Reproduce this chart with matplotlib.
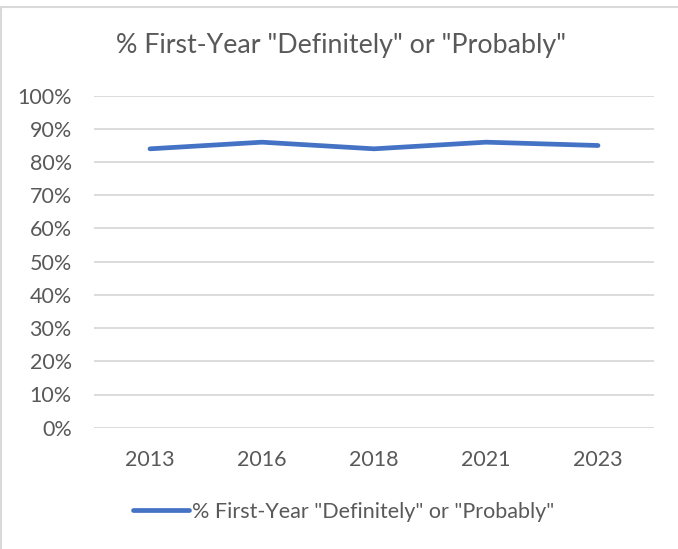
import numpy as np
import matplotlib.pyplot as plt
from matplotlib.lines import Line2D

# data
years = ['2013', '2016', '2018', '2021', '2023']
pct = [84, 86, 84, 86, 85]
yticks = list(range(0, 101, 10))
ylabels = ['%d%%' % v for v in yticks]
series_name = '% First-Year "Definitely" or "Probably"'

plt.rcParams['font.family'] = ['Lato', 'DejaVu Sans']
txt = '#595959'

fig = plt.figure(figsize=(6.78, 5.49), dpi=100)
ax = fig.add_axes([94/678, 1-427.7/549, (654-94)/678, (427.7-95.7)/549])

x = np.arange(len(years))
ax.plot(x, pct, color='#4472C4', lw=3.4, solid_capstyle='round',
        solid_joinstyle='round', label=series_name)

ax.set_xlim(-0.5, len(years)-0.5)
ax.set_ylim(0, 100)
ax.set_yticks(yticks)
ax.set_yticklabels(ylabels)
ax.set_xticks(x)
ax.set_xticklabels(years)
ax.grid(axis='y', color='#d9d9d9', lw=1.3)
ax.set_axisbelow(True)
for s in ax.spines.values():
    s.set_visible(False)
ax.tick_params(length=0, labelsize=15.5, colors=txt)
ax.tick_params(axis='y', pad=16)
ax.tick_params(axis='x', pad=16)

fig.text(341.5/678, 1-45/549, series_name, ha='center', va='center',
         fontsize=19.3, color=txt)

leg = fig.legend(handles=[Line2D([], [], color='#4472C4', lw=3.4,
                                 solid_capstyle='round')],
                 labels=[series_name], loc='center',
                 bbox_to_anchor=(344/678, 1-512/549), frameon=False,
                 fontsize=15.5, handlelength=2.6, handletextpad=0.15,
                 labelcolor=txt)

# chart border (only top and left visible)
fig.add_artist(Line2D([1/678, 1/678], [0, 1-6.5/549], color='#d9d9d9', lw=1.5))
fig.add_artist(Line2D([1/678, 1], [1-6.5/549, 1-6.5/549], color='#d9d9d9', lw=1.5))

fig.savefig('out.png', dpi=100)
